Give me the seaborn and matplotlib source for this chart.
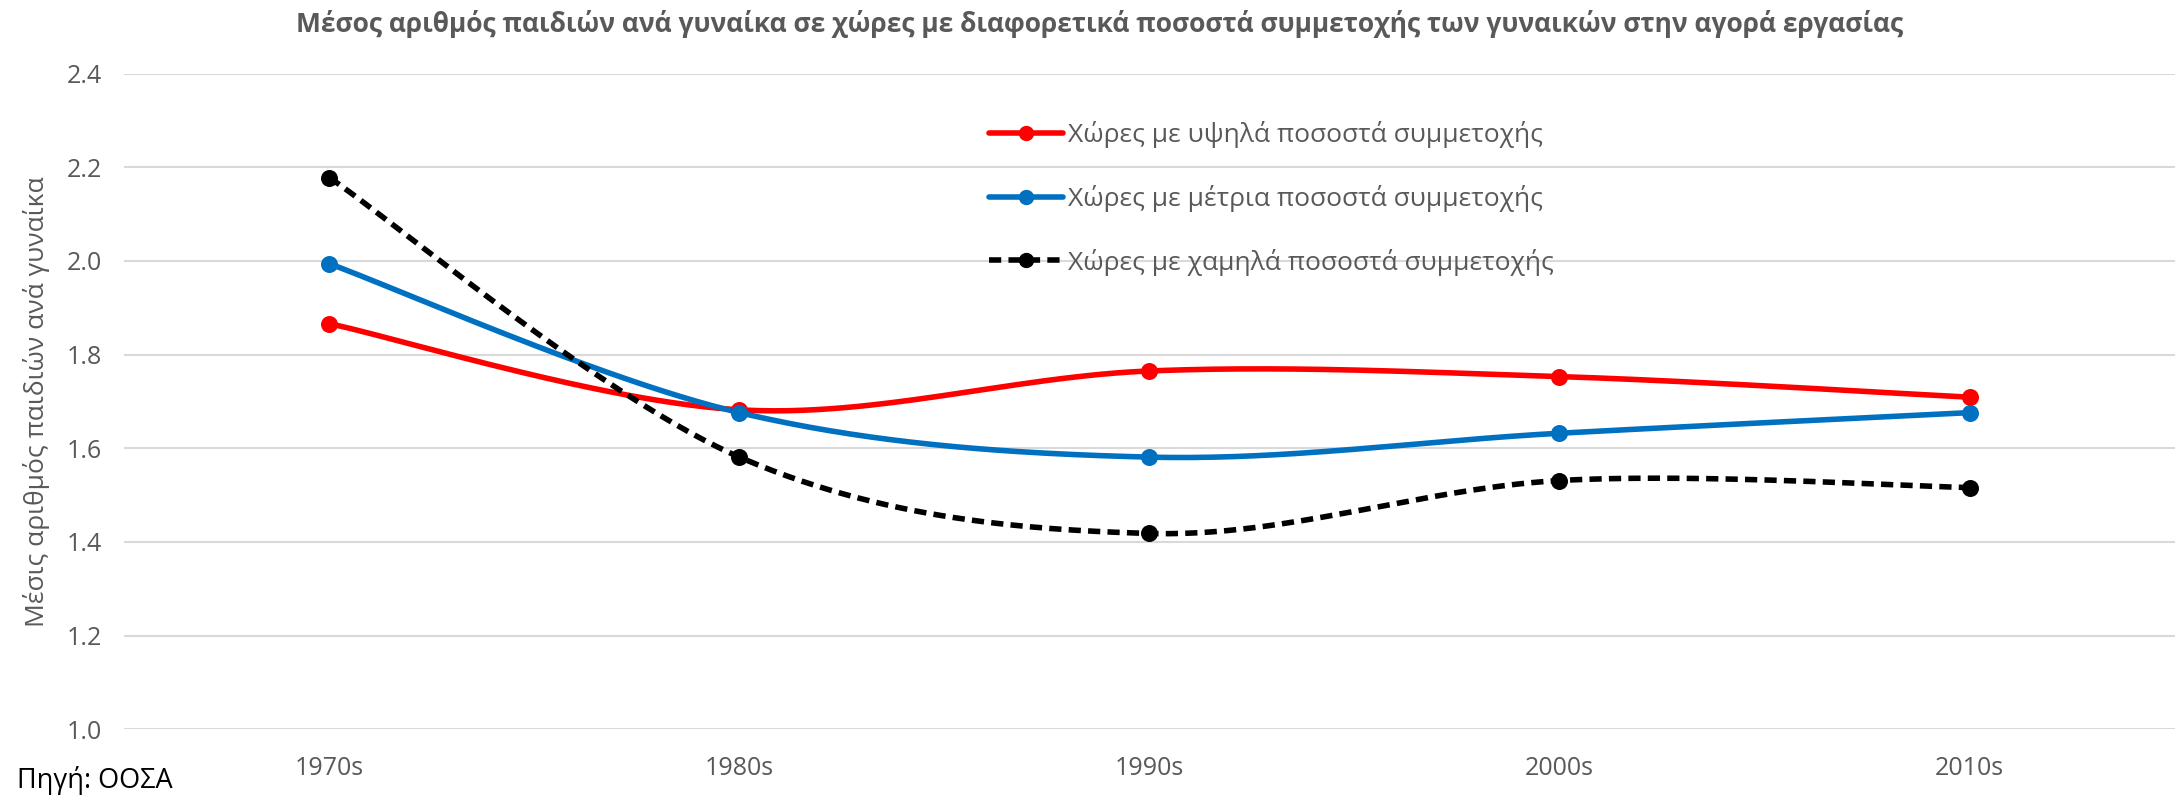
import numpy as np
import pandas as pd
import matplotlib
matplotlib.use("Agg")
import matplotlib.pyplot as plt
from matplotlib.lines import Line2D
import seaborn as sns

categories = ["1970s", "1980s", "1990s", "2000s", "2010s"]
high = [1.866, 1.682, 1.765, 1.753, 1.709]
medium = [1.994, 1.676, 1.581, 1.632, 1.676]
low = [2.178, 1.581, 1.418, 1.531, 1.516]
series_names = ["Χώρες με υψηλά ποσοστά συμμετοχής",
                "Χώρες με μέτρια ποσοστά συμμετοχής",
                "Χώρες με χαμηλά ποσοστά συμμετοχής"]
yticks = [1.0, 1.2, 1.4, 1.6, 1.8, 2.0, 2.2, 2.4]
title = "Μέσος αριθμός παιδιών ανά γυναίκα σε χώρες με διαφορετικά ποσοστά συμμετοχής των γυναικών στην αγορά εργασίας"
ylabel = "Μέσις αριθμός παιδιών ανά γυναίκα"
source = "Πηγή: ΟΟΣΑ"

colors = ["#ff0000", "#0070c0", "#000000"]

sns.set_theme(style="white")
plt.rcParams["font.family"] = ["Open Sans", "DejaVu Sans"]


def smooth(xs, ys, n=60):
    P = np.column_stack([xs, ys]).astype(float)
    P = np.vstack([P[0], P, P[-1]])
    out = []
    for i in range(1, len(P) - 2):
        p0, p1, p2, p3 = P[i - 1], P[i], P[i + 1], P[i + 2]
        c1 = p1 + (p2 - p0) / 6.0
        c2 = p2 - (p3 - p1) / 6.0
        t = np.linspace(0, 1, n)[:, None]
        seg = ((1 - t) ** 3) * p1 + 3 * ((1 - t) ** 2) * t * c1 + 3 * (1 - t) * t ** 2 * c2 + t ** 3 * p2
        out.append(seg if i == 1 else seg[1:])
    return np.vstack(out)


fig = plt.figure(figsize=(21.78, 7.95), dpi=100)
ax = fig.add_axes([0.0571, 0.0828, 0.9413, 0.8246])

xpos = np.arange(len(categories))
styles = ["-", "-", (0, (2.2, 1.3))]
for vals, col, ls, name in zip([high, medium, low], colors, styles, series_names):
    sm = smooth(xpos, vals)
    df = pd.DataFrame({"x": sm[:, 0], "y": sm[:, 1]})
    sns.lineplot(data=df, x="x", y="y", sort=False, ax=ax, color=col,
                 linewidth=4, linestyle=ls, zorder=3)
    pts = pd.DataFrame({"x": xpos, "y": vals})
    sns.scatterplot(data=pts, x="x", y="y", ax=ax, color=col, s=150,
                    edgecolor=col, linewidth=0, zorder=4)

ax.set_xlim(-0.5, len(categories) - 0.5)
ax.set_ylim(1.0, 2.4)
ax.set_yticks(yticks)
ax.set_yticklabels([f"{v:.1f}" for v in yticks])
ax.set_xticks(xpos)
ax.set_xticklabels(categories)
ax.grid(axis="y", color="#d9d9d9", linewidth=1.5)
ax.grid(axis="x", visible=False)
for s in ax.spines.values():
    s.set_visible(False)
ax.tick_params(axis="both", length=0, labelsize=18, colors="#595959")
ax.tick_params(axis="x", pad=19)
ax.tick_params(axis="y", pad=16)
ax.set_xlabel("")
ax.set_ylabel(ylabel, fontsize=19, color="#595959", labelpad=12)

handles = [Line2D([0], [0], color=c, lw=4, linestyle=ls, marker="o", markersize=10)
           for c, ls in zip(colors, styles)]
fig.legend(handles, series_names, loc="upper left", bbox_to_anchor=(0.454, 0.848),
           frameon=False, fontsize=19, handlelength=2.8, handletextpad=0.2,
           labelspacing=1.4, borderpad=0, borderaxespad=0, labelcolor="#595959")

fig.text(0.505, 0.97, title, ha="center", va="center", fontsize=19,
         fontweight="bold", color="#595959")
fig.text(0.008, 0.018, source, ha="left", va="center", fontsize=19.5, color="black")

fig.savefig("out.png", dpi=100)
